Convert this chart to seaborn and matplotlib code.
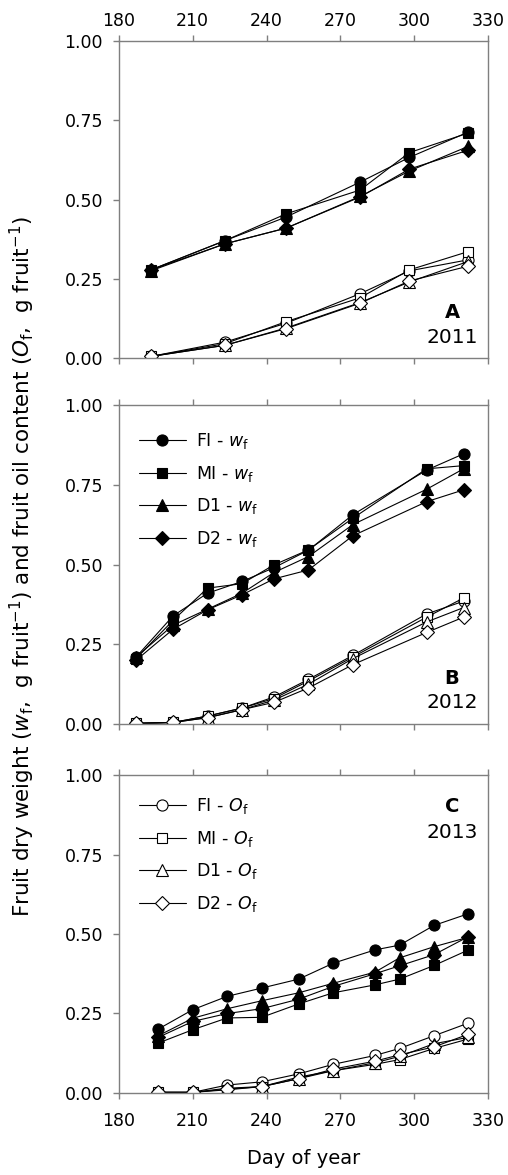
import numpy as np
import pandas as pd
import matplotlib
matplotlib.use("Agg")
import matplotlib.pyplot as plt
import seaborn as sns

treatments = ["FI", "MI", "D1", "D2"]
markers = ["o", "s", "^", "D"]

# 2011
days_2011 = [193, 223, 248, 278, 298, 322]
wf_2011 = {
    "FI": [0.278, 0.370, 0.445, 0.555, 0.633, 0.713],
    "MI": [0.278, 0.370, 0.455, 0.530, 0.648, 0.710],
    "D1": [0.275, 0.360, 0.410, 0.510, 0.590, 0.668],
    "D2": [0.278, 0.360, 0.410, 0.508, 0.596, 0.656],
}
of_2011 = {
    "FI": [0.005, 0.050, 0.110, 0.203, 0.275, 0.310],
    "MI": [0.005, 0.045, 0.115, 0.190, 0.278, 0.336],
    "D1": [0.005, 0.040, 0.095, 0.175, 0.240, 0.305],
    "D2": [0.005, 0.040, 0.093, 0.173, 0.243, 0.290],
}

# 2012
days_2012 = [187, 202, 216, 230, 243, 257, 275, 305, 320]
wf_2012 = {
    "FI": [0.210, 0.339, 0.410, 0.447, 0.490, 0.545, 0.656, 0.796, 0.847],
    "MI": [0.205, 0.325, 0.426, 0.440, 0.499, 0.546, 0.645, 0.800, 0.810],
    "D1": [0.210, 0.310, 0.360, 0.410, 0.475, 0.525, 0.625, 0.736, 0.800],
    "D2": [0.200, 0.297, 0.358, 0.405, 0.455, 0.483, 0.590, 0.697, 0.734],
}
of_2012 = {
    "FI": [0.002, 0.005, 0.025, 0.050, 0.085, 0.140, 0.215, 0.345, 0.385],
    "MI": [0.002, 0.005, 0.025, 0.050, 0.080, 0.135, 0.210, 0.335, 0.395],
    "D1": [0.002, 0.005, 0.020, 0.045, 0.075, 0.125, 0.205, 0.320, 0.365],
    "D2": [0.002, 0.005, 0.020, 0.045, 0.068, 0.113, 0.186, 0.287, 0.335],
}

# 2013
days_2013 = [196, 210, 224, 238, 253, 267, 284, 294, 308, 322]
wf_2013 = {
    "FI": [0.201, 0.262, 0.304, 0.330, 0.358, 0.408, 0.450, 0.465, 0.527, 0.564],
    "MI": [0.157, 0.199, 0.236, 0.238, 0.280, 0.315, 0.340, 0.358, 0.401, 0.450],
    "D1": [0.180, 0.235, 0.265, 0.290, 0.315, 0.345, 0.380, 0.425, 0.460, 0.490],
    "D2": [0.175, 0.225, 0.250, 0.265, 0.295, 0.335, 0.375, 0.400, 0.435, 0.492],
}
of_2013 = {
    "FI": [0.002, 0.002, 0.025, 0.035, 0.060, 0.090, 0.118, 0.140, 0.180, 0.220],
    "MI": [0.002, 0.002, 0.010, 0.020, 0.050, 0.070, 0.090, 0.105, 0.140, 0.170],
    "D1": [0.002, 0.002, 0.015, 0.020, 0.045, 0.070, 0.095, 0.115, 0.155, 0.175],
    "D2": [0.002, 0.002, 0.012, 0.020, 0.045, 0.075, 0.100, 0.120, 0.145, 0.185],
}

years = [
    ("A", "2011", days_2011, wf_2011, of_2011),
    ("B", "2012", days_2012, wf_2012, of_2012),
    ("C", "2013", days_2013, wf_2013, of_2013),
]

sns.set_style("ticks")
plt.rcParams["font.family"] = ["DejaVu Sans"]
plt.rcParams["mathtext.fontset"] = "dejavusans"
plt.rcParams["text.color"] = "black"
plt.rcParams["axes.labelcolor"] = "black"

grey = "#7f7f7f"
fs = 12.5

fig = plt.figure(figsize=(5.08, 11.75), dpi=100)
left, width = 0.234, 0.727
boxes = [(0.6953, 0.2698), (0.3838, 0.2715), (0.0698, 0.2706)]
legend_top = {"B": 0.94, "C": 0.955}

for i, ((letter, year, days, wf, of), (bottom, height)) in enumerate(zip(years, boxes)):
    ax = fig.add_axes([left, bottom, width, height])
    for t, m in zip(treatments, markers):
        ms = {"o": 8, "s": 7.5, "^": 8, "D": 7}[m]
        df_w = pd.DataFrame({"day": days, "value": wf[t]})
        df_o = pd.DataFrame({"day": days, "value": of[t]})
        kw_w = dict(label=f"{t} - $w_\\mathrm{{f}}$") if letter == "B" else {}
        kw_o = dict(label=f"{t} - $O_\\mathrm{{f}}$") if letter == "C" else {}
        sns.lineplot(data=df_w, x="day", y="value", ax=ax, color="black",
                     linewidth=0.8, marker=m, markersize=ms,
                     markerfacecolor="black", markeredgecolor="black",
                     markeredgewidth=0.8, **kw_w)
        sns.lineplot(data=df_o, x="day", y="value", ax=ax, color="black",
                     linewidth=0.8, marker=m, markersize=ms,
                     markerfacecolor="white", markeredgecolor="black",
                     markeredgewidth=0.8, **kw_o)

    ax.set_xlim(180, 330)
    ax.set_ylim(0, 1.0)
    ax.set_xticks(np.arange(180, 331, 30))
    ax.set_yticks([0, 0.25, 0.5, 0.75, 1.0])
    ax.set_yticklabels(["0.00", "0.25", "0.50", "0.75", "1.00"])
    ax.set_xlabel("")
    ax.set_ylabel("")
    for s in ax.spines.values():
        s.set_visible(True)
        s.set_color(grey)
        s.set_linewidth(1.0)
    ax.tick_params(axis="both", direction="out", length=4.5, width=1.0,
                   color=grey, labelsize=fs, labelcolor="black")
    ax.tick_params(axis="y", pad=7, right=False, left=True)
    ax.tick_params(axis="x", top=True, bottom=True,
                   labeltop=(i == 0), labelbottom=(i == 2))
    if i == 2:
        ax.tick_params(axis="x", pad=9)

    if letter == "C":
        ax.text(0.902, 0.90, letter, transform=ax.transAxes, ha="center",
                va="center", fontsize=14, fontweight="bold")
        ax.text(0.902, 0.82, year, transform=ax.transAxes, ha="center",
                va="center", fontsize=14.5)
    else:
        ax.text(0.902, 0.143, letter, transform=ax.transAxes, ha="center",
                va="center", fontsize=14, fontweight="bold")
        ax.text(0.902, 0.066, year, transform=ax.transAxes, ha="center",
                va="center", fontsize=14.5)

    if letter in legend_top:
        ax.legend(loc="upper left", bbox_to_anchor=(0.035, legend_top[letter]),
                  frameon=False, fontsize=fs, handlelength=2.7,
                  handletextpad=0.6, labelspacing=0.72, borderaxespad=0.0)
    elif ax.get_legend() is not None:
        ax.get_legend().remove()

    if letter == "C":
        ax.set_xlabel("Day of year", fontsize=14, labelpad=14)

fig.text(0.045, 0.518,
         "Fruit dry weight ($w_\\mathrm{f}$,  g fruit$^{-1}$) and fruit oil content "
         "($O_\\mathrm{f}$,  g fruit$^{-1}$)",
         rotation=90, ha="center", va="center", fontsize=15.5)

fig.savefig("out.png", dpi=100)
